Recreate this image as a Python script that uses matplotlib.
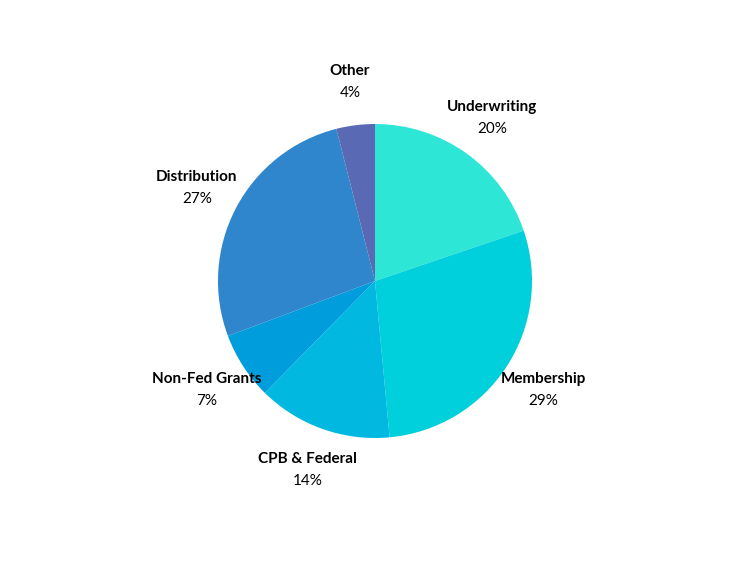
import numpy as np
import matplotlib
matplotlib.use("Agg")
import matplotlib.pyplot as plt

# data
labels = ["Underwriting", "Membership", "CPB & Federal", "Non-Fed Grants", "Distribution", "Other"]
values = [20, 29, 14, 7, 27, 4]
colors = ["#2ee6d6", "#00cfdc", "#00b8e0", "#009ddd", "#2f86cc", "#5a69b3"]

plt.rcParams['font.family'] = ['Lato', 'DejaVu Sans']

fig = plt.figure(figsize=(7.5, 5.63), dpi=100)
# square axes centred on the pie, radius ~157 px
lim = 1.8
size_px = 2 * 157 * lim
ax = fig.add_axes([(375 - size_px / 2) / 750, (282 - size_px / 2) / 563,
                   size_px / 750, size_px / 563])

wedges, _ = ax.pie(values, colors=colors, startangle=90, counterclock=False,
                   wedgeprops={'linewidth': 0})

total = sum(values)
for w, lab, v in zip(wedges, labels, values):
    ang = np.deg2rad((w.theta1 + w.theta2) / 2)
    x, y = 1.28 * np.cos(ang), 1.28 * np.sin(ang)
    ax.text(x, y + 0.07, lab, ha='center', va='center', fontsize=11, fontweight='bold')
    ax.text(x, y - 0.07, f"{v}%", ha='center', va='center', fontsize=11)

ax.set_xlim(-lim, lim)
ax.set_ylim(-lim, lim)
ax.set_aspect('equal')
ax.axis('off')

fig.savefig("out.png", dpi=100)
